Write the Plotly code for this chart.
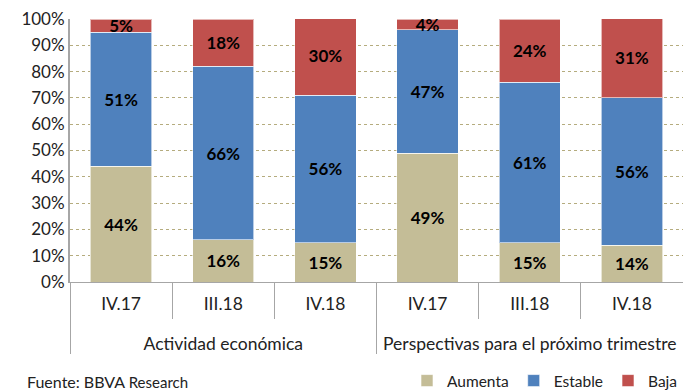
import plotly.graph_objects as go

groups = ["Actividad económica"] * 3 + ["Perspectivas para el próximo trimestre"] * 3
periods = ["IV.17", "III.18", "IV.18", "IV.17", "III.18", "IV.18"]

aumenta = [44, 16, 15, 49, 15, 14]
estable = [51, 66, 56, 47, 61, 56]
baja = [5, 18, 30, 4, 24, 31]

series = [
    ("Aumenta", aumenta, "#C4BD97"),
    ("Estable", estable, "#4F81BD"),
    ("Baja", baja, "#C0504D"),
]

FONT = "Lato"
TXT = "#222222"

# outer group labels sit one blank line lower than the period labels
group_labels = ["<br>" + g for g in groups]

fig = go.Figure()
for name, vals, color in series:
    fig.add_trace(go.Bar(
        x=[group_labels, periods],
        y=vals,
        name=name,
        marker=dict(color=color, line=dict(color="rgba(255,255,255,0.6)", width=1)),
        text=[f"{v}%" for v in vals],
        textposition="inside",
        insidetextanchor="middle",
        constraintext="none",
        textfont=dict(family=FONT, size=17, color="black", weight="bold"),
        hoverinfo="skip",
    ))

fig.update_layout(
    barmode="stack",
    bargap=0.4,
    width=683,
    height=392,
    margin=dict(l=70, r=0, t=19, b=110),
    paper_bgcolor="white",
    plot_bgcolor="white",
    font=dict(family=FONT, size=17, color=TXT),
    showlegend=True,
    legend=dict(
        orientation="h",
        xref="container", yref="container",
        x=1.0, xanchor="right",
        y=(392 - 381) / 392, yanchor="middle",
        font=dict(family=FONT, size=15.5, color=TXT),
        traceorder="normal",
        itemwidth=30,
        bgcolor="rgba(0,0,0,0)",
    ),
    uniformtext=dict(minsize=17, mode="show"),
)

fig.update_yaxes(
    range=[0, 100],
    tickvals=[0, 10, 20, 30, 40, 50, 60, 70, 80, 90, 100],
    ticktext=[f"{v}%" for v in range(0, 101, 10)],
    showgrid=True,
    gridcolor="#B5AC7E",
    griddash="dot",
    gridwidth=1,
    showline=True,
    linecolor="#A6A6A6",
    linewidth=2,
    ticks="",
    tickfont=dict(family=FONT, size=17, color=TXT),
    zeroline=False,
    automargin=False,
)

fig.update_xaxes(
    type="multicategory",
    automargin=False,
    showgrid=False,
    showline=True,
    linecolor="#A6A6A6",
    linewidth=1,
    ticks="outside",
    tickson="boundaries",
    ticklen=36,
    tickcolor="#A6A6A6",
    ticklabelstandoff=6,
    showdividers=True,
    dividercolor="#A6A6A6",
    dividerwidth=1,
    tickfont=dict(family=FONT, size=17.5, color=TXT),
)

fig.add_annotation(
    text="Fuente: BBVA <span style='font-size:15px'>Research</span>",
    xref="paper", yref="paper",
    x=(25 - 70) / 613, y=(282 - 381) / 263,
    xanchor="left", yanchor="middle",
    showarrow=False,
    font=dict(family=FONT, size=16, color=TXT),
)

fig.write_html("out.html")
